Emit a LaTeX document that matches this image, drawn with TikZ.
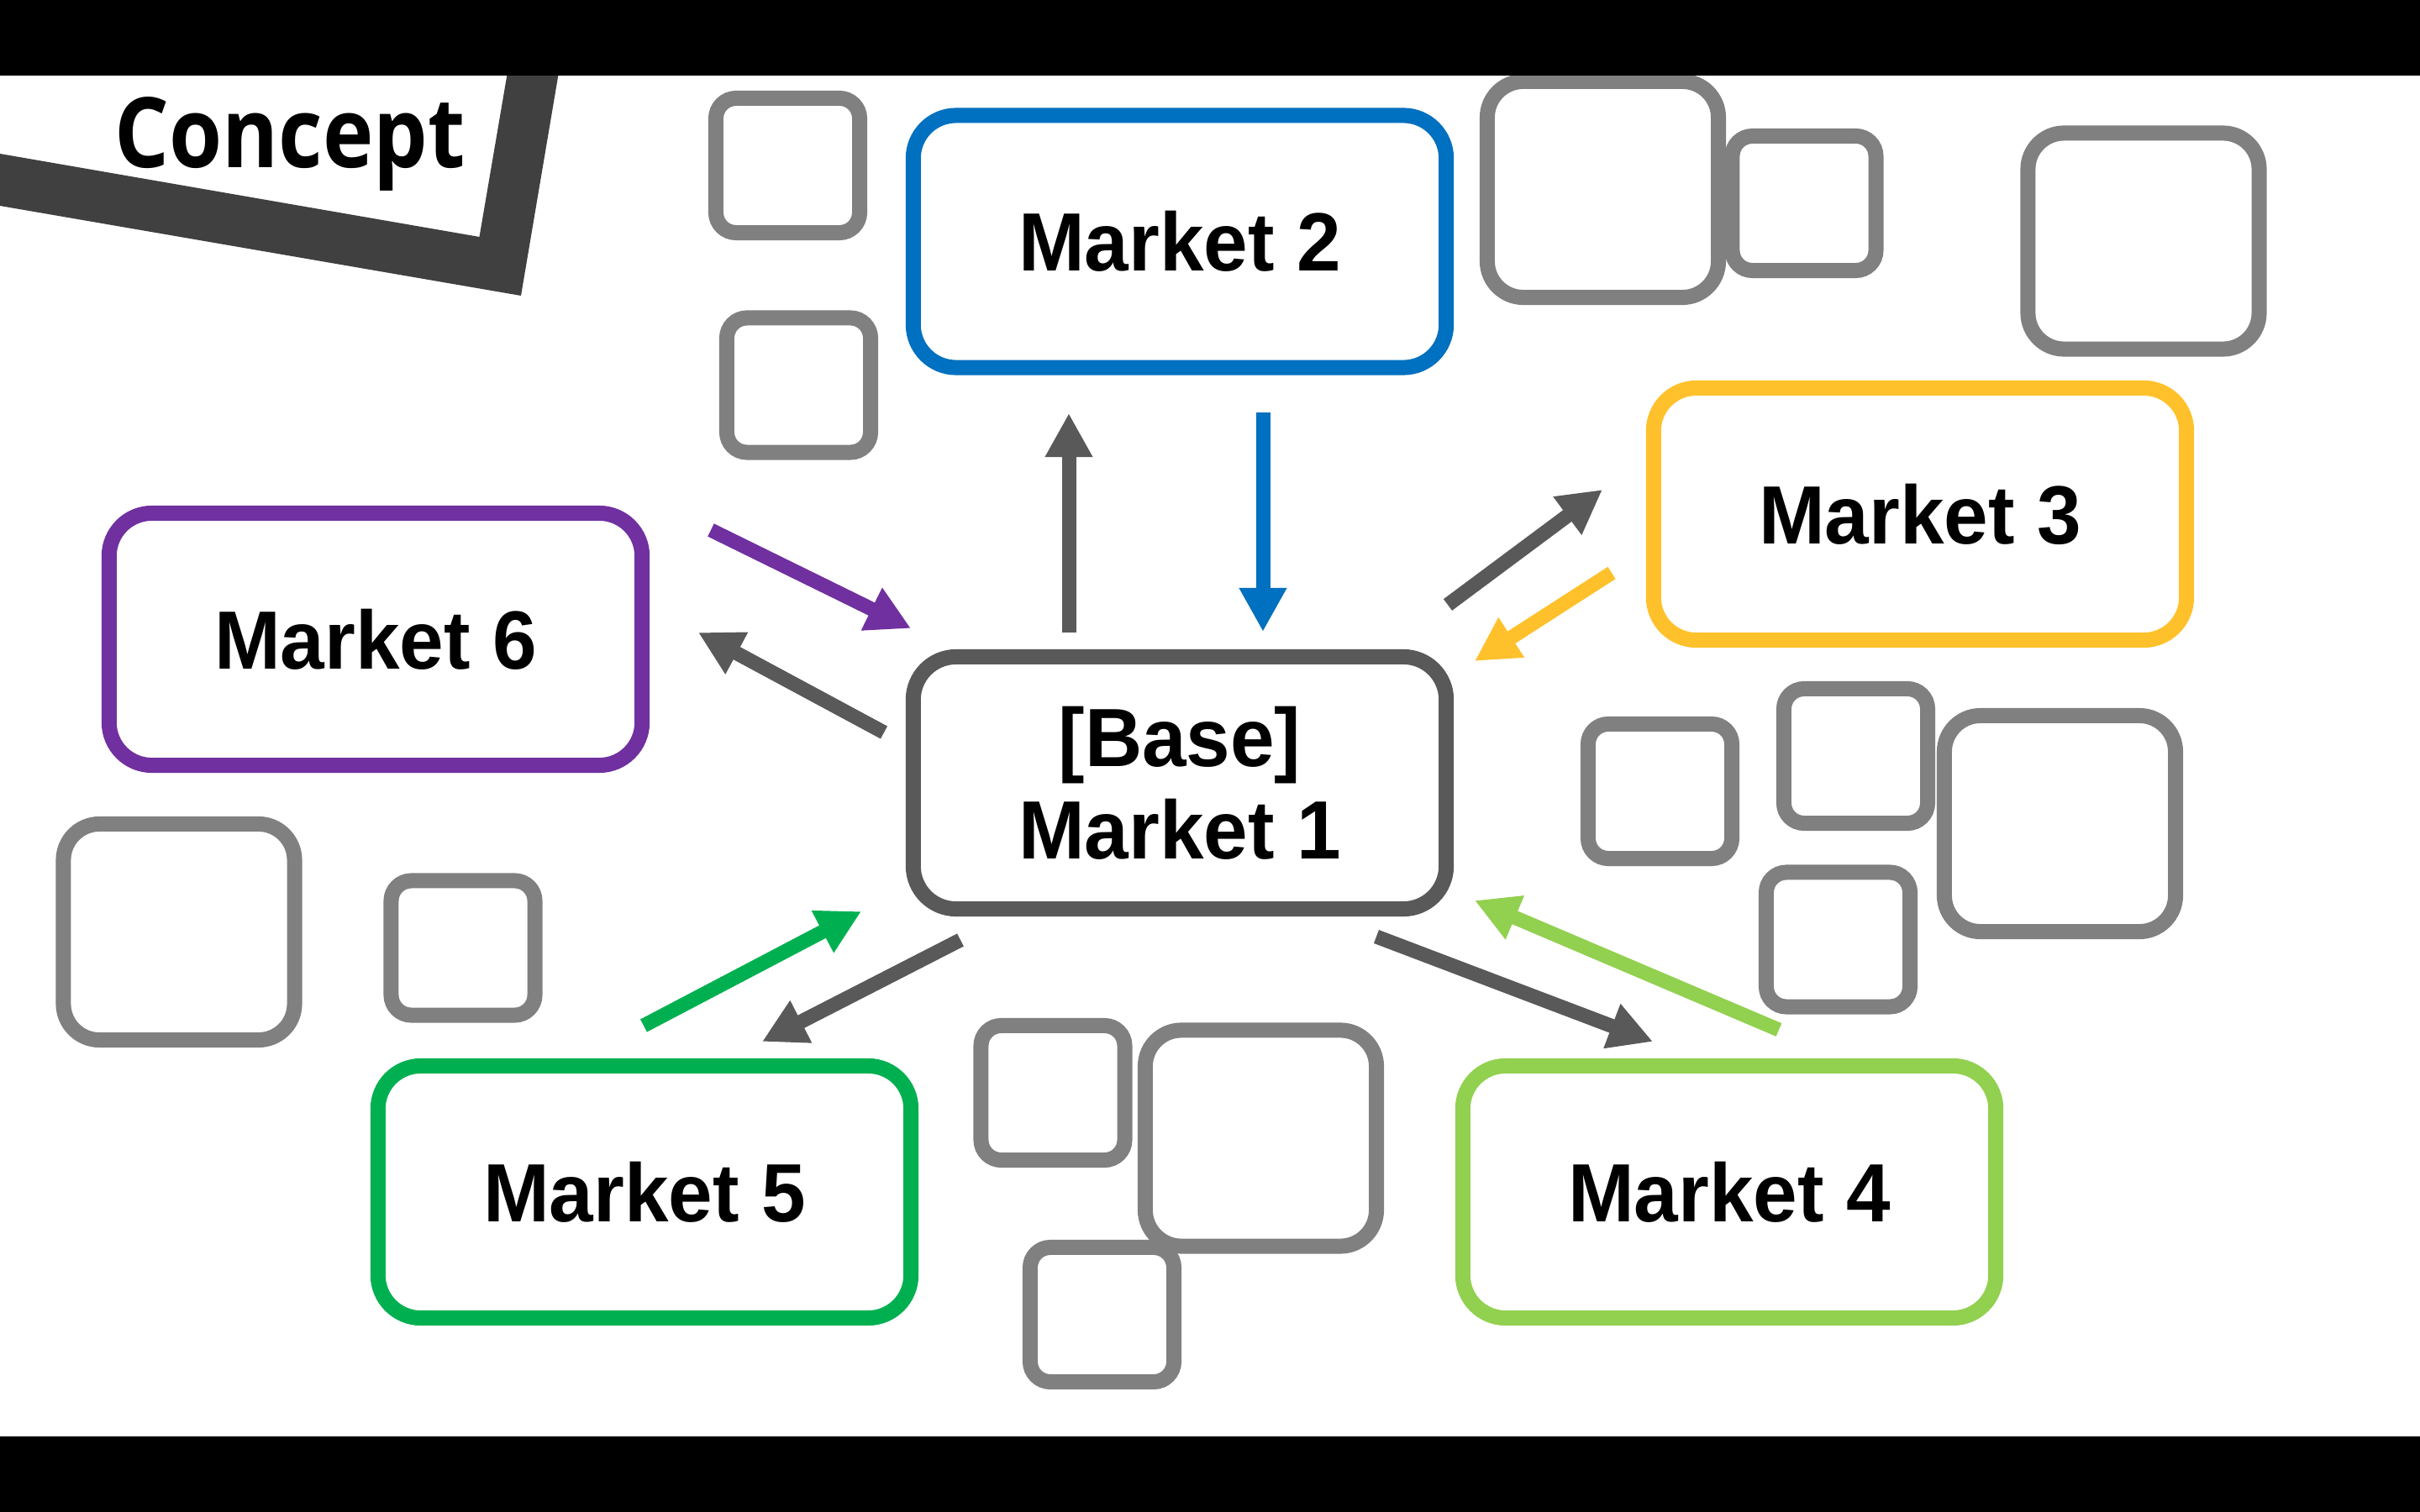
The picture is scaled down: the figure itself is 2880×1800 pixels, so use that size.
\documentclass[tikz,border=0pt]{standalone}
\usepackage{fontspec}
\newfontfamily\mktfont[FakeStretch=0.96]{Liberation Sans}
\newfontfamily\tagfont[FakeStretch=0.88]{Open Sans}
\usetikzlibrary{arrows.meta}
\definecolor{BaseGray}{HTML}{595959}
\definecolor{BoxGray}{HTML}{808080}
\definecolor{TagGray}{HTML}{404040}
\definecolor{MktBlue}{HTML}{0070C0}
\definecolor{MktGold}{HTML}{FFC12B}
\definecolor{MktPurple}{HTML}{7030A0}
\definecolor{MktGreen}{HTML}{00B050}
\definecolor{MktLime}{HTML}{92D050}

\begin{document}
\begin{tikzpicture}[x=0.01cm,y=-0.01cm,every node/.style={inner sep=0pt},
  mkt/.style={draw=#1,fill=white,line width=0.18cm,rounded corners=0.51cm,minimum width=6.34cm,minimum height=3cm,align=center,font=\mktfont\bfseries\fontsize{28}{31.3}\selectfont},
  sqs/.style={draw=BoxGray,fill=white,line width=0.18cm,rounded corners=0.24cm,minimum width=1.71cm,minimum height=1.6cm},
  sqb/.style={draw=BoxGray,fill=white,line width=0.18cm,rounded corners=0.43cm,minimum width=2.75cm,minimum height=2.57cm},
  flow/.style={draw=#1,line width=0.17cm,-{Triangle[length=0.52cm,width=0.53cm]}}]
  \useasboundingbox (0,0) rectangle (2880,1800);
  \fill[white] (0,0) rectangle (2880,1800);
  \foreach \n/\x/\y in {1/937.5/197,2/950.5/458.5,4/2147/242,6/1975.5/942,7/2208.5/900,9/2187.5/1118.5,11/551/1128.5,12/1253/1301}
    \node[sqs] (sq\n) at (\x,\y) {};
  \foreach \n/\x/\y in {3/1907.5/225.5,5/2551/287,8/2451.5/980.5,10/213/1109.5,13/1500.5/1355}
    \node[sqb] (sq\n) at (\x,\y) {};
  \node[sqs] (sq14) at (1311.5,1565) {};
  \node[mkt=BaseGray] (mkt1) at (1404,932) {[Base]\\Market 1};
  \node[mkt=MktBlue] (mkt2) at (1404,287.5) {Market 2};
  \node[mkt=MktGold] (mkt3) at (2285,612) {Market 3};
  \node[mkt=MktLime] (mkt4) at (2058,1419) {Market 4};
  \node[mkt=MktGreen] (mkt5) at (767,1419) {Market 5};
  \node[mkt=MktPurple] (mkt6) at (447,761) {Market 6};
  \foreach \nm/\col/\xa/\ya/\xb/\yb in {out2/BaseGray/1272/753/1272/492,in2/MktBlue/1503/491/1503/752,
    out3/BaseGray/1723/720/1907/583,in3/MktGold/1918/682/1755/787,
    out4/BaseGray/1638/1115/1967/1240,in4/MktLime/2117/1226/1755/1072,
    out5/BaseGray/1143/1119/907/1240,in5/MktGreen/766/1221/1025/1085,
    out6/BaseGray/1052/872/831/753,in6/MktPurple/846/631/1084/748}{
    \coordinate (\nm a) at (\xa,\ya);
    \coordinate (\nm b) at (\xb,\yb);
    \draw[flow=\col] (\nm a) -- (\nm b);
  }
  \fill[TagGray] (0,183) -- (570.5,282) -- (605,80) -- (666,80) -- (620,352) -- (0,245) -- cycle;
  \node[font=\tagfont\bfseries\fontsize{33}{39}\selectfont,anchor=base] (tag) at (345,200) {Concept};
  \fill[black] (0,0) rectangle (2880,90);
  \fill[black] (0,1710) rectangle (2880,1800);
\end{tikzpicture}
\end{document}
